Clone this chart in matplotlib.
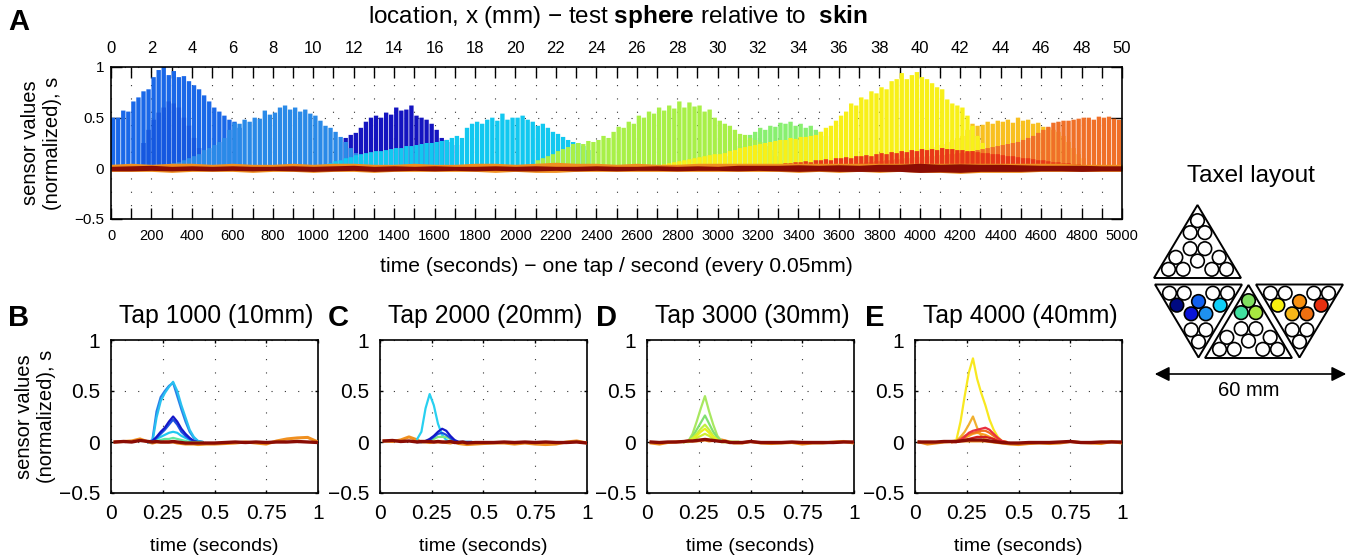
import numpy as np
import matplotlib
matplotlib.use('Agg')
import matplotlib.pyplot as plt
from matplotlib.patches import Polygon, Circle

plt.rcParams['font.family'] = ['Liberation Sans', 'DejaVu Sans']
plt.rcParams['mathtext.fontset'] = 'custom'
plt.rcParams['mathtext.bf'] = 'Liberation Sans:bold'
plt.rcParams['mathtext.rm'] = 'Liberation Sans'

#panel A, one peak value per tap block (every 25 s)
step = 25
blue1_start = 0
blue1 = [.50,.50,.57,.56,.66,.70,.76,.78,.90,.97,1.0,.92,.96,.90,.91,.86,.82,.78,.72,.66,.60,.56,.52,.48,.46,.40]
blue3_start = 150
blue3 = [.25,.38,.48,.55,.60,.66,.64,.60,.50,.42,.30,.20]
blue2_start = 250
blue2 = [.02,.03,.05,.06,.08,.10,.12,.14,.18,.20,.23,.26,.30,.38,.45,.44,.48,.46,.50,.49,.57,.53,.55,.60,.62,.58,.60,.56,.58,.54,.52,.47,.42,.40,.36,.31,.26,.20,.15,.11,.08,.05,.03]
navy_start = 1150
navy = [.30,.33,.35,.40,.46,.50,.52,.50,.55,.53,.60,.57,.58,.62,.52,.50,.48,.44,.38,.30,.28,.26,.23]
cyan_start = 1000
cyan = [.02,.03,.04,.05,.07,.08,.10,.11,.13,.14,.15,.16,.17,.17,.18,.19,.20,.20,.22,.22,.23,.24,.25,.25,.26,.27,.28,.30,.32,.30,.40,.44,.46,.44,.48,.50,.47,.54,.48,.50,.50,.52,.48,.46,.42,.44,.40,.36,.34,.31,.28,.26,.25,.22,.18]
lime_start = 2100
lime = [.08,.10,.12,.14,.17,.19,.21,.24,.25,.24,.27,.26,.28,.32,.30,.36,.41,.40,.46,.44,.52,.50,.56,.54,.60,.57,.62,.59,.66,.60,.65,.61,.62,.56,.58,.50,.47,.44,.42,.38,.34,.33,.30,.28,.26,.22,.18,.12,.08]
green_start = 3050
green = [.12,.16,.22,.28,.33,.36,.40,.38,.42,.41,.45,.44,.46,.42,.44,.40,.42,.38,.36,.32]
yellow_start = 2700
yellow = [.03,.04,.05,.06,.07,.08,.09,.10,.11,.12,.13,.14,.14,.15,.17,.18,.20,.21,.22,.23,.24,.25,.26,.27,.28,.28,.30,.29,.31,.31,.32,.33,.36,.40,.42,.47,.52,.56,.64,.62,.70,.68,.76,.74,.80,.78,.86,.88,.94,.88,.92,.95,.90,.88,.84,.80,.78,.68,.64,.62,.60,.52,.42,.32,.25,.18,.12]
amber_start = 3900
amber = [.13,.14,.16,.17,.18,.20,.21,.23,.24,.26,.28,.30,.32,.38,.44,.42,.43,.46,.44,.47,.46,.48,.45,.50,.47,.48,.44,.45,.41,.40,.38,.36,.32,.26,.20,.14,.10]
orange_start = 3600
orange = [.03,.03,.04,.05,.05,.06,.06,.07,.07,.08,.08,.09,.09,.10,.10,.11,.11,.12,.12,.13,.13,.14,.14,.15,.15,.16,.17,.18,.19,.20,.21,.22,.23,.24,.25,.26,.28,.30,.32,.35,.38,.41,.45,.46,.47,.47,.48,.49,.50,.50,.48,.51,.50,.51,.49,.48,.47]
red_start = 3300
red = [.04,.05,.05,.06,.06,.07,.06,.08,.08,.09,.08,.10,.10,.11,.10,.12,.12,.13,.12,.14,.15,.14,.16,.15,.17,.16,.18,.17,.19,.18,.19,.18,.20,.19,.19,.18,.18,.17,.17,.16,.15,.15,.14,.14,.13,.12,.12,.11,.10,.10,.09,.08,.08,.07,.06,.06,.05,.05,.04,.04]

#panel A, noise band round zero (every 100 s)
noise_time = list(range(0, 5001, 100))
orange_hi = [.04,.05,.04,.05,.05,.04,.05,.04,.04,.05,.04,.05,.05,.04,.04,.05,.04,.04,.05,.05,.04,.05,.06,.05,.05,.04,.05,.04,.04,.05,.05,.05,.05,.05,.05,.05,.05,.05,.05,.05,.05,.05,.05,.05,.05,.05,.05,.05,.04,.04,.04]
orange_lo = [-.03,-.03,-.03,-.04,-.03,-.03,-.03,-.04,-.03,-.03,-.04,-.03,-.03,-.04,-.03,-.03,-.03,-.03,-.03,-.04,-.03,-.04,-.04,-.03,-.03,-.03,-.03,-.03,-.03,-.03,-.03,-.03,-.03,-.03,-.04,-.03,-.04,-.03,-.04,-.03,-.04,-.04,-.05,-.04,-.04,-.04,-.03,-.03,-.03,-.03,-.03]
dark_hi = [.02,.025,.03,.02,.025,.02,.025,.02,.02,.025,.02,.025,.03,.02,.025,.02,.025,.02,.02,.025,.02,.025,.02,.02,.025,.02,.02,.025,.02,.025,.02,.03,.03,.03,.035,.03,.035,.03,.04,.04,.05,.04,.045,.04,.04,.035,.03,.03,.03,.025,.025]
dark_lo = [-.025,-.025,-.02,-.025,-.02,-.025,-.02,-.025,-.02,-.025,-.03,-.025,-.02,-.03,-.025,-.02,-.025,-.02,-.025,-.02,-.025,-.025,-.02,-.025,-.02,-.025,-.02,-.02,-.025,-.02,-.02,-.025,-.02,-.025,-.03,-.025,-.03,-.03,-.03,-.03,-.04,-.035,-.04,-.03,-.03,-.03,-.025,-.025,-.03,-.025,-.025]

#panels B-E, traces of one tap
tap_time = [.02,.06,.10,.14,.18,.20,.22,.24,.26,.28,.30,.32,.34,.36,.38,.40,.42,.46,.50,.55,.60,.65,.70,.75,.80,.85,.90,.95,1.0]
peak_time = [.18,.20,.22,.24,.26,.28,.30,.32,.34,.36,.38,.40,.42,.44]

b_orange = [.0,.005,.01,.03,.0,-.01,.0,.0,.0,.0,.0,-.01,-.015,-.02,-.02,-.02,-.025,-.02,-.02,-.015,-.01,.0,-.01,-.02,.01,.03,.04,.045,.0]
b_red = [.0,.005,.0,.015,.005,.0,.005,.0,.0,.0,.005,.0,-.005,-.01,-.01,-.01,-.01,-.01,-.01,-.005,.0,-.005,.0,-.005,.0,.0,.005,.0,-.005]
c_orange = [.01,.005,.02,.05,.02,.0,.0,-.005,.0,.0,.0,-.005,-.01,.0,-.015,-.02,-.025,-.02,-.015,-.01,-.01,-.02,-.01,-.02,-.025,-.02,.0,.01,-.01]
c_red = [.01,.015,.005,.01,.0,.005,.005,.005,.0,.005,.0,.0,.005,-.005,-.005,.0,-.01,-.005,-.005,-.005,.0,-.005,.0,-.005,.0,-.005,-.005,.0,-.01]
d_orange = [-.01,-.02,-.005,.0,.005,.01,.01,.01,.015,.02,.01,.015,.015,.02,.01,.0,-.01,-.01,.005,-.01,-.015,-.01,-.005,-.02,-.01,-.01,.0,.005,-.01]
d_red = [.0,-.005,.0,.0,.005,.01,.01,.015,.02,.025,.02,.015,.01,.005,.005,-.005,-.005,-.005,.005,-.005,-.005,-.005,.0,-.005,-.005,-.005,-.005,.0,.0]
e_orange = [.0,-.02,-.01,.0,.005,.01,.01,.01,.01,.01,.01,.01,.01,.005,.0,-.005,-.01,-.02,-.025,-.015,-.01,-.015,-.01,.005,-.005,-.01,-.015,.005,-.01]
e_red = [.0,.0,.0,.005,.005,.005,.01,.015,.02,.02,.02,.02,.015,.01,.005,.0,-.005,-.01,-.01,-.005,-.005,-.005,.0,.005,-.005,-.005,.0,.0,.0]

b_peaks = [
    ('#2a80e8', [0,.02,.30,.44,.50,.55,.58,.45,.32,.20,.10,.04,.01,0]),
    ('#28c0f0', [0,0,.24,.40,.48,.54,.59,.50,.36,.24,.12,.05,.01,0]),
    ('#20c8f0', [0,0,.03,.05,.07,.09,.10,.09,.06,.04,.02,.01,0,0]),
    ('#1a50e0', [0,.01,.04,.08,.12,.17,.22,.17,.10,.06,.03,.01,0,0]),
    ('#1418c8', [0,.01,.05,.10,.14,.20,.25,.20,.13,.08,.04,.01,0,0]),
    ('#60e8a0', [0,0,.01,.02,.03,.03,.04,.03,.02,.01,0,0,0,0]),
]
c_peaks = [
    ('#28d0f0', [.03,.10,.33,.47,.36,.18,.07,.02,0,0,0,0,0,0]),
    ('#80e880', [0,0,.01,.02,.03,.05,.05,.05,.03,.01,0,0,0,0]),
    ('#1a50e0', [0,0,0,.02,.05,.08,.09,.07,.04,.01,0,0,0,0]),
    ('#1418c8', [0,0,.01,.03,.06,.10,.13,.11,.06,.02,0,0,0,0]),
]
d_peaks = [
    ('#a8e860', [0,.01,.08,.20,.33,.45,.30,.17,.06,.01,0,0,0,0]),
    ('#80e070', [0,.01,.05,.12,.19,.26,.18,.10,.04,.01,0,0,0,0]),
    ('#c0f040', [0,.01,.04,.08,.13,.17,.12,.06,.02,0,0,0,0,0]),
    ('#e8f020', [0,.01,.03,.06,.10,.13,.09,.05,.02,0,0,0,0,0]),
    ('#d0f030', [0,0,.02,.04,.06,.08,.06,.03,.01,0,0,0,0,0]),
]
e_peaks = [
    ('#f8e820', [0,.02,.20,.45,.68,.82,.62,.48,.36,.22,.12,.05,.01,0]),
    ('#f0b030', [0,.01,.05,.10,.17,.25,.14,.06,.03,.01,0,0,0,0]),
    ('#f8a020', [0,0,.02,.04,.06,.08,.09,.08,.07,.05,.03,.01,0,0]),
    ('#f07020', [0,.01,.03,.06,.08,.09,.10,.11,.11,.09,.06,.03,.01,0]),
    ('#e83040', [0,0,.02,.05,.09,.11,.12,.13,.14,.12,.08,.04,.01,0]),
    ('#d02020', [0,0,.01,.02,.03,.04,.05,.05,.05,.04,.03,.01,0,0]),
]

tap_titles = ['Tap 1000 (10mm)', 'Tap 2000 (20mm)', 'Tap 3000 (30mm)', 'Tap 4000 (40mm)']
panel_names = ['B', 'C', 'D', 'E']

x_ticks = list(range(0, 5001, 100))
x_labels = [str(t) if t % 200 == 0 else '' for t in x_ticks]
top_labels = [str(t // 100) if t % 200 == 0 else '' for t in x_ticks]
y_ticks = [-.5, 0, .5, 1]
y_labels = ['\u22120.5', '0', '0.5', '1']
small_ticks = [0, .25, .5, .75, 1]
small_labels = ['0', '0.25', '0.5', '0.75', '1']

#taxels of one triangle, apex up, pixels from the apex
taxels = [(0,47),(-22,83),(22,83),(-22,131),(22,131),(0,168),(-65,157),(-87,193),(-43,193),(65,157),(43,193),(87,193)]
left_colors = {6:'#000a80', 5:'#1060f0', 3:'#0a14d8', 4:'#1e90f0', 9:'#10d0f8'}
mid_colors = {0:'#80e060', 1:'#40e0a0', 2:'#a8e840'}
right_colors = {6:'#f8f010', 5:'#f89010', 3:'#f8b818', 4:'#f07010', 9:'#e83010'}


def W(px):
    return px / 1364.0


def H(px):
    return px / 556.0


def add_axes_px(left, right, top, bottom):
    return fig.add_axes([W(left), 1 - H(bottom), W(right - left), H(bottom - top)])


def dotted_grid(ax):
    ax.grid(True, color='#333333', linewidth=0.8, linestyle=(0, (1, 11)))
    ax.set_axisbelow(True)


def draw_bars(ax, start, vals, color):
    x = start + step * np.arange(len(vals))
    #snap off so every gap comes out the same faint line
    ax.bar(x, vals, width=21.5, color=color, linewidth=0, align='edge', zorder=3, snap=False)


fig = plt.figure(figsize=(13.64, 5.56), dpi=100)

#panel A
ax = add_axes_px(111, 1122, 67, 219)
dotted_grid(ax)
draw_bars(ax, navy_start, navy, '#1414c0')
draw_bars(ax, blue1_start, blue1, '#1a68e8')
draw_bars(ax, blue3_start, blue3, '#1558e0')
draw_bars(ax, blue2_start, blue2, '#2a8ae8')
draw_bars(ax, cyan_start, cyan, '#12c8f0')
draw_bars(ax, green_start, green, '#88f070')
draw_bars(ax, lime_start, lime, '#a8f048')
draw_bars(ax, amber_start, amber, '#f8c020')
draw_bars(ax, yellow_start, yellow, '#f8f018')
draw_bars(ax, orange_start, orange, '#f07028')
draw_bars(ax, red_start, red, '#e83818')
ax.fill_between(noise_time, orange_lo, orange_hi, color='#f09020', linewidth=0, zorder=4)
ax.fill_between(noise_time, dark_lo, dark_hi, color='#8a0c04', linewidth=0, zorder=5)
ax.set_xlim(0, 5000)
ax.set_ylim(-.5, 1)
ax.set_xticks(x_ticks)
ax.set_xticklabels(x_labels, fontsize=10.5)
ax.set_yticks(y_ticks)
ax.set_yticklabels(y_labels, fontsize=11)
ax.tick_params(axis='x', direction='in', length=8, width=1, top=True, pad=7)
ax.tick_params(axis='y', direction='in', length=8, width=1, right=True, pad=5)
ax.set_xlabel('time (seconds) \u2212 one tap / second (every 0.05mm)', fontsize=15.2, labelpad=10)
ax.set_ylabel('sensor values\n(normalized), s', fontsize=14.5, labelpad=9, linespacing=1.2)
for s in ax.spines.values():
    s.set_linewidth(1.2)
    s.set_zorder(6)

top = ax.secondary_xaxis('top')
top.set_xticks(x_ticks)
top.set_xticklabels(top_labels, fontsize=12)
top.tick_params(axis='x', length=0, pad=8)
top.spines['top'].set_visible(False)
fig.text(W(618), 1 - H(17), r'location, x (mm) $-$ test $\bf{sphere}$ relative to  $\bf{skin}$',
         fontsize=17.5, ha='center', va='center')

#panels B to E
lefts = [111, 380, 647, 915]
baselines = [(b_orange, b_red), (c_orange, c_red), (d_orange, d_red), (e_orange, e_red)]
all_peaks = [b_peaks, c_peaks, d_peaks, e_peaks]
letter_x = [19, 338, 606, 875]
for i in range(4):
    a = add_axes_px(lefts[i], lefts[i] + 207, 340, 493)
    dotted_grid(a)
    a.plot(tap_time, baselines[i][0], color='#f09020', lw=2.2, zorder=3)
    for c, v in all_peaks[i]:
        a.plot(peak_time, v, color=c, lw=1.6, zorder=4)
    a.plot(tap_time, baselines[i][1], color='#8a0c04', lw=2.4, zorder=5)
    a.set_xlim(0, 1)
    a.set_ylim(-.5, 1)
    a.set_xticks(small_ticks)
    a.set_xticklabels(small_labels, fontsize=15)
    a.set_yticks(y_ticks)
    a.set_yticklabels(y_labels, fontsize=15)
    a.tick_params(direction='in', length=2.5, width=1, top=True, right=True, pad=8)
    a.set_xlabel('time (seconds)', fontsize=14, labelpad=11)
    if i == 0:
        a.set_ylabel('sensor values\n(normalized), s', fontsize=14.5, labelpad=2, linespacing=1.2)
    for s in a.spines.values():
        s.set_linewidth(1.2)
    fig.text(W(lefts[i] + 105), 1 - H(316), tap_titles[i], fontsize=17.8, ha='center', va='center')
    fig.text(W(letter_x[i]), 1 - H(318), panel_names[i], fontsize=21, fontweight='bold', ha='center', va='center')
fig.text(W(19), 1 - H(22), 'A', fontsize=21, fontweight='bold', ha='center', va='center')

#taxel layout, drawn in figure pixels
lay = fig.add_axes([0, 0, 1, 1])
lay.set_xlim(0, 1364)
lay.set_ylim(556, 0)
lay.axis('off')
lay.patch.set_alpha(0)


def draw_triangle(ax, x, y, flip, colors):
    #x,y is the apex of the triangle, flip points it down
    sign = -1 if flip else 1
    pts = [(x, y), (x - 43.5, y + sign * 73), (x + 43.5, y + sign * 73)]
    ax.add_patch(Polygon(pts, closed=True, fill=False, edgecolor='k', linewidth=1.4))
    for n, (dx, dy) in enumerate(taxels):
        dy_px = dy / 3.0
        ax.add_patch(Circle((x + dx / 3.0, y + sign * dy_px), 6.8,
                            facecolor=colors.get(n, 'white'), edgecolor='k', linewidth=1.2))


draw_triangle(lay, 1197.5, 205, False, {})
draw_triangle(lay, 1198.5, 357.5, True, left_colors)
draw_triangle(lay, 1248.5, 285, False, mid_colors)
draw_triangle(lay, 1299.5, 357.5, True, right_colors)
lay.annotate('', xy=(1152, 374), xytext=(1349, 374),
             arrowprops=dict(arrowstyle='<|-|>', color='k', lw=1.2, mutation_scale=22))
lay.text(1251, 176, 'Taxel layout', fontsize=17.5, ha='center', va='center')
lay.text(1249, 391, '60 mm', fontsize=14.5, ha='center', va='center')

fig.savefig('out.png', dpi=100)
